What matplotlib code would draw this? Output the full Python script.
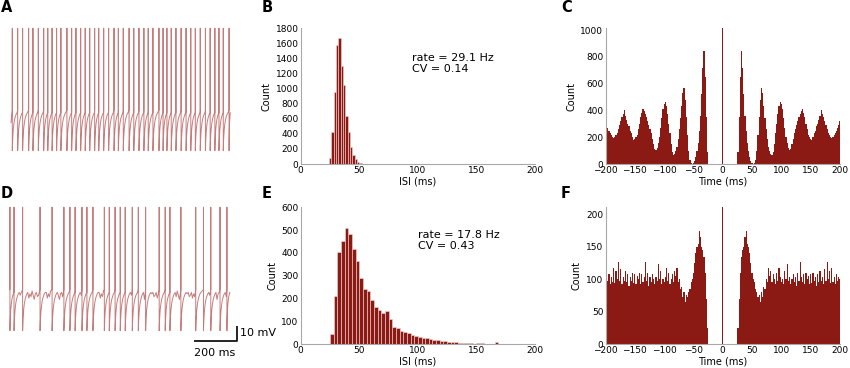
import numpy as np
import matplotlib
matplotlib.use("Agg")
import matplotlib.pyplot as plt

# ---- data ----
# spike times (ms) of the two example voltage traces
spikes_a = [13, 38, 61, 89, 109, 134, 159, 178, 198, 219, 239, 267, 289, 309, 331,
            352, 373, 396, 415, 438, 461, 486, 506, 529, 556, 578, 602, 625, 645, 667,
            695, 714, 732, 752, 774, 798, 821, 843, 864, 887, 911, 933, 955, 974, 994, 1021]
spikes_d = [2, 21, 61, 142, 198, 253, 281, 305, 337, 360, 388, 441, 464, 491, 515,
            538, 571, 599, 633, 696, 724, 746, 797, 866, 902, 936, 979, 1011]
trace_a_span = (7, 1027)
trace_d_span = (0, 1025)

# ISI histograms
isi_b_start, isi_b_width = 24, 2.0
isi_b_counts = [80, 430, 950, 1575, 1665, 1295, 1045, 640, 430, 225, 125, 65, 30, 12, 5]
isi_e_start, isi_e_width = 25, 3.125
isi_e_counts = [45, 211, 402, 454, 509, 484, 418, 365, 288, 240, 233, 193, 161, 149, 137, 146,
                108, 76, 70, 56, 51, 47, 40, 35, 31, 28, 26, 20, 18, 16, 12, 13,
                10, 7, 9, 6, 5, 4, 4, 2, 3, 6, 2, 1, 2, 7, 1, 1]
rate_b, cv_b = 29.1, 0.14
rate_e, cv_e = 17.8, 0.43

# autocorrelograms, positive lags 0, 2, ..., 200 ms (symmetric)
acg_c = [1013] + [0] * 12 + [
    90, 350, 650, 840, 720, 520, 360, 250, 160, 100, 50, 25, 10, 3, 5,
    30, 100, 220, 350, 480, 570, 530, 430, 340, 260, 190, 130, 95, 75, 70,
    90, 150, 230, 300, 370, 430, 460, 450, 410, 340, 270, 200, 160, 120, 105,
    115, 150, 190, 230, 260, 290, 320, 350, 370, 395, 410, 380, 350, 300, 260,
    220, 200, 185, 180, 200, 230, 250, 280, 300, 330, 360, 400, 370, 350, 320,
    290, 260, 230, 215, 200, 195, 205, 220, 230, 250, 270, 290, 320]
acg_f = [211] + [0] * 12 + [
    25, 70, 110, 135, 145, 150, 165, 175, 155, 150, 140, 125, 110, 100, 95,
    85, 80, 72, 75, 65, 80, 72, 88, 85, 100, 95, 118, 105, 112, 95,
    108, 100, 92, 110, 98, 118, 104, 96, 100, 92, 112, 100, 124, 98, 104,
    92, 100, 108, 96, 104, 90, 110, 98, 126, 104, 95, 108, 92, 110, 100,
    105, 92, 108, 94, 110, 98, 104, 90, 108, 96, 112, 98, 104, 92, 116,
    98, 127, 100, 112, 94, 118, 96, 104, 92, 108, 98, 104, 100]

# ---- styling ----
W, H = 850, 368
RED = '#8b1a14'
TRACE = '#9a1010'
SPINE = '#a8a8a8'
V_PEAK, V_TH, V_RESET = 17.0, -41.0, -70.0
rec_t = [0, 0.08, 0.2, 0.35, 0.5, 0.7, 0.85, 1.0]
rec_v = [0, 0.3, 0.55, 0.72, 0.83, 0.92, 0.97, 1.0]
wiggle = [-4, -2, -6, -3, -5, -1, -4, -7, -3, -2, -5]


def box(x0, y0, x1, y1):
    return [x0 / W, 1 - y1 / H, (x1 - x0) / W, (y1 - y0) / H]


def build_trace(spk, span, v_start, rec_max):
    t, v = [span[0]], [v_start]
    k = 0
    for i, s in enumerate(spk):
        t += [s, s, s]
        v += [V_TH, V_PEAK, V_RESET]
        nxt = spk[i + 1] if i + 1 < len(spk) else span[1]
        isi = nxt - s
        dur = min(isi, rec_max)
        for ft, fv in zip(rec_t[1:], rec_v[1:]):
            tt = s + ft * dur
            if tt > nxt:
                break
            t.append(tt)
            v.append(V_RESET + fv * 0.93 * (V_TH - V_RESET))
        tt = s + dur + 5
        while tt < nxt - 2:
            t.append(tt)
            v.append(V_TH + wiggle[k % len(wiggle)])
            k += 1
            tt += 5
    return t, v


def style_axes(ax):
    for side in ['top', 'right']:
        ax.spines[side].set_visible(False)
    for side in ['left', 'bottom']:
        ax.spines[side].set_color(SPINE)
        ax.spines[side].set_linewidth(0.8)
    ax.tick_params(length=0, labelsize=6.5, pad=1.5)
    ax.set_ylabel('Count', fontsize=7, labelpad=3)


fig = plt.figure(figsize=(W / 100, H / 100), dpi=100)

# traces
for spk, span, v0, top, bot in [(spikes_a, trace_a_span, -50, 28.3, 150.7),
                                 (spikes_d, trace_d_span, -41, 207.3, 330.7)]:
    ax = fig.add_axes(box(9.5, top, 231, bot))
    t, v = build_trace(spk, span, v0, 22 if spk is spikes_a else 24)
    ax.plot(t, v, color=TRACE, lw=0.7, alpha=0.55, clip_on=False)
    ax.set_xlim(0, 1030)
    ax.set_ylim(V_RESET, V_PEAK)
    ax.axis('off')
    if spk is spikes_d:
        ax.plot([858, 1058, 1058], [-77, -77, -67], color='black', lw=1.2,
                clip_on=False, solid_capstyle='butt')
        ax.text(1072, -71.5, '10 mV', fontsize=8, va='center', ha='left')
        ax.text(956, -82, '200 ms', fontsize=8, va='top', ha='center')

# ISI histograms
for counts, start, bw, rate, cv, top, bot, ymax, yticks, tx, ty in [
        (isi_b_counts, isi_b_start, isi_b_width, rate_b, cv_b, 28.3, 164, 1800,
         range(0, 1801, 200), 0.475, 0.82),
        (isi_e_counts, isi_e_start, isi_e_width, rate_e, cv_e, 207.3, 344, 600,
         range(0, 601, 100), 0.50, 0.835)]:
    ax = fig.add_axes(box(300.7, top, 535, bot))
    centers = start + bw * (np.arange(len(counts)) + 0.5)
    ax.bar(centers, counts, width=bw, color=RED, edgecolor='#f2d6d6', linewidth=0.4)
    ax.set_xlim(0, 200)
    ax.set_ylim(0, ymax)
    ax.set_xticks(range(0, 201, 50))
    ax.set_yticks(list(yticks))
    style_axes(ax)
    ax.set_xlabel('ISI (ms)', fontsize=7, labelpad=1)
    ax.text(tx, ty, 'rate = %.1f Hz\nCV = %.2f' % (rate, cv), transform=ax.transAxes,
            fontsize=8, va='top', ha='left', linespacing=1.1)

# autocorrelograms
for acg, top, bot, ymax, yticks in [(acg_c, 28.3, 164, 1013, range(0, 1001, 200)),
                                    (acg_f, 207.3, 344, 211, range(0, 201, 50))]:
    ax = fig.add_axes(box(605.5, top, 840, bot))
    pos = np.array(acg, dtype=float)
    lags = np.arange(len(pos)) * 2
    x = np.concatenate([-lags[:0:-1], lags])
    y = np.concatenate([pos[:0:-1], pos])
    ax.fill_between(x, y, step='mid', color=RED, lw=0)
    ax.set_xlim(-200, 200)
    ax.set_ylim(0, ymax)
    ax.set_xticks(range(-200, 201, 50))
    ax.set_yticks(list(yticks))
    style_axes(ax)
    ax.set_xlabel('Time (ms)', fontsize=7, labelpad=1)

for letter, x, y in [('A', 1, 8), ('B', 262, 8), ('C', 561, 8),
                     ('D', 1, 193), ('E', 262, 193), ('F', 561, 193)]:
    fig.text(x / W, 1 - y / H, letter, fontsize=10.5, fontweight='bold', va='center', ha='left')

fig.savefig('out.png', dpi=100)
